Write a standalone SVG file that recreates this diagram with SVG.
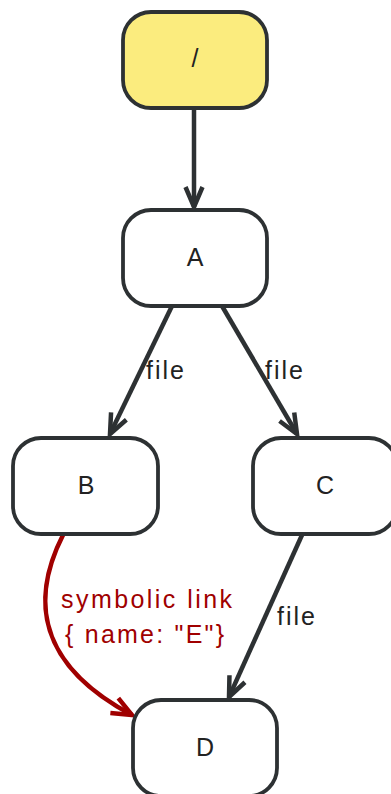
<svg xmlns="http://www.w3.org/2000/svg" width="391" height="794" viewBox="0 0 391 794">
<style>
.node rect{fill:#ffffff;stroke:#2d3133;stroke-width:3.8}
.node.root rect{fill:#fbec7e}
.node text{font-family:"Liberation Sans",Arial,sans-serif;font-size:25px;fill:#222222;text-anchor:middle}
.edge{fill:none;stroke:#2d3133;stroke-width:4.5}
.edge.red{stroke:#a00000}
.lbl{font-family:"Liberation Sans",Arial,sans-serif;font-size:25px;fill:#222222}
.lbl.red{fill:#a00000;font-size:25px}
</style>
<defs>
<marker id="ah" markerUnits="userSpaceOnUse" orient="auto" refX="0" refY="0" markerWidth="30" markerHeight="30" overflow="visible">
<path d="M-20,-8.5 L0,0 L-20,8.5" fill="none" stroke="#2d3133" stroke-width="4.5"/>
</marker>
<marker id="ahr" markerUnits="userSpaceOnUse" orient="auto" refX="0" refY="0" markerWidth="30" markerHeight="30" overflow="visible">
<path d="M-20,-8.5 L0,0 L-20,8.5" fill="none" stroke="#a00000" stroke-width="4.5"/>
</marker>
</defs>
<g id="edges">
<path class="edge" d="M194,109 L194,207" marker-end="url(#ah)"/>
<path class="edge" d="M172,306 L110,434" marker-end="url(#ah)"/>
<path class="edge" d="M222,306 L297,434" marker-end="url(#ah)"/>
<path class="edge" d="M302,535 L229,697" marker-end="url(#ah)"/>
<path class="edge red" d="M63,535 C30,600 38,665 132,715" marker-end="url(#ahr)"/>
<text class="lbl" x="146" y="379" textLength="38" lengthAdjust="spacing">file</text>
<text class="lbl" x="265" y="379" textLength="38" lengthAdjust="spacing">file</text>
<text class="lbl" x="277" y="625" textLength="38" lengthAdjust="spacing">file</text>
<text class="lbl red" x="61" y="608" textLength="171" lengthAdjust="spacing">symbolic link</text>
<text class="lbl red" x="65" y="643" textLength="159" lengthAdjust="spacing">{ name: "E"}</text>
</g>
<g id="node-root" class="node root"><rect x="123" y="12" width="144" height="96" rx="28"/><text x="195" y="67">/</text></g>
<g id="node-A" class="node"><rect x="123" y="210" width="144" height="96" rx="28"/><text x="195" y="266">A</text></g>
<g id="node-B" class="node"><rect x="13" y="438" width="145" height="96" rx="28"/><text x="86" y="494">B</text></g>
<g id="node-C" class="node"><rect x="253" y="438" width="144" height="96" rx="28"/><text x="325" y="494">C</text></g>
<g id="node-D" class="node"><rect x="133" y="700" width="144" height="96" rx="28"/><text x="205" y="756">D</text></g>
</svg>
